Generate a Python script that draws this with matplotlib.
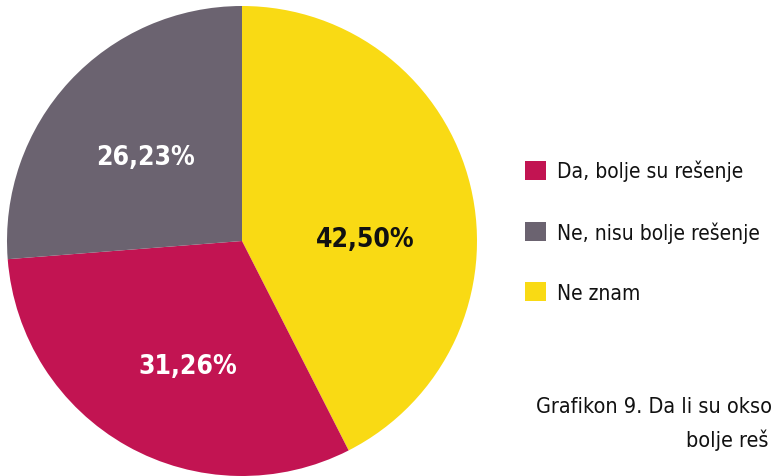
import matplotlib
matplotlib.use("Agg")
import matplotlib.pyplot as plt
from matplotlib.font_manager import fontManager

cond = [f for f in fontManager.ttflist if f.name == "DejaVu Sans" and f.stretch == "condensed"]
plt.rcParams['font.family'] = ["DejaVu Sans"]
if cond:
    plt.rcParams['font.stretch'] = 'condensed'

categories = ["Da, bolje su rešenje", "Ne, nisu bolje rešenje", "Ne znam"]
values = [31.26, 26.23, 42.50]
colors = ["#C21452", "#6B6370", "#F9DA14"]
label_text = ["31,26", "26,23", "42,50"]
label_pos = [(-0.230, -0.532), (-0.409, 0.357), (0.523, 0.0085)]
label_colors = ["white", "white", "#111111"]
caption_lines = ["Grafikon 9. Da li su okso", "bolje reš"]

fig = plt.figure(figsize=(7.72, 4.77), dpi=100)
ax = fig.add_axes([7/772, 0.0, 470/772, 470/477])
order = [2, 0, 1]
wedges, _ = ax.pie([values[i] for i in order], colors=[colors[i] for i in order],
                   startangle=90, counterclock=False, radius=1.0,
                   wedgeprops=dict(linewidth=0))
ax.set_xlim(-1, 1)
ax.set_ylim(-1, 1)
ax.set_aspect('equal')
ax.axis('off')

fs_lab = 19 if cond else 16
fs = 15 if cond else 13
for t, (x, y), c in zip(label_text, label_pos, label_colors):
    ax.text(x, y, t + "%", ha='center', va='center', fontsize=fs_lab,
            fontweight='bold', color=c)

handles = [wedges[order.index(i)] for i in range(3)]
leg = fig.legend(handles, categories, loc='upper left',
                 bbox_to_anchor=(525/772, 1 - 161/477), frameon=False,
                 fontsize=fs, handlelength=1.0, handleheight=1.0,
                 handletextpad=0.55, labelspacing=1.9, borderpad=0,
                 borderaxespad=0)
for txt in leg.get_texts():
    txt.set_color("#111111")

fig.text(536/772, 1 - 407/477, caption_lines[0], fontsize=fs + 0.5, color="#111111",
         ha='left', va='center')
fig.text(769/772, 1 - 440/477, caption_lines[1], fontsize=fs + 0.5, color="#111111",
         ha='right', va='center')

fig.savefig("out.png", dpi=100)
